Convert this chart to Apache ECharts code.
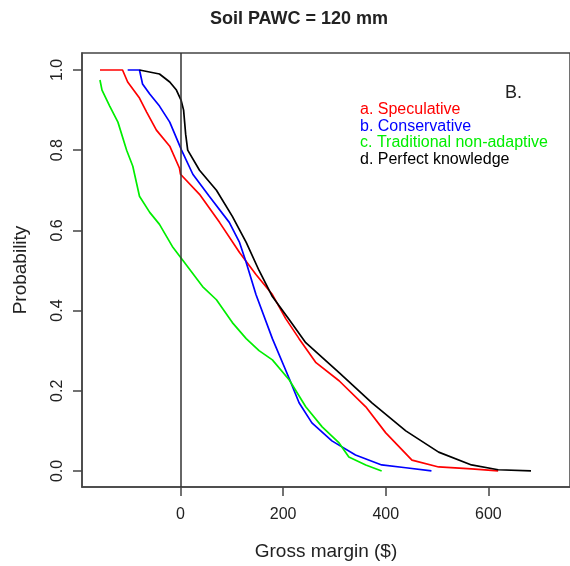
<!DOCTYPE html>
<html>
<head>
<meta charset="utf-8">
<script src="https://cdn.jsdelivr.net/npm/echarts@6/dist/echarts.min.js"></script>
<style>html,body{margin:0;padding:0;background:#fff}#c{width:570px;height:566px}</style>
</head>
<body>
<div id="c"></div>
<script>
var titleText = 'Soil PAWC = 120 mm';
var panelLabel = 'B.';
var xTicks = [0, 200, 400, 600];
var yTicks = [0, 0.2, 0.4, 0.6, 0.8, 1.0];
var seriesNames = ['a. Speculative', 'b. Conservative', 'c. Traditional non-adaptive', 'd. Perfect knowledge'];

var speculativeX = [-157, -113, -103, -80, -66, -47, -21, -2, 0, 37, 76, 115, 147, 179, 205, 231, 264, 309, 361, 400, 451, 503, 567, 619];
var speculativeY = [1.0, 1.0, 0.97, 0.93, 0.895, 0.85, 0.81, 0.755, 0.74, 0.69, 0.62, 0.545, 0.49, 0.44, 0.38, 0.33, 0.27, 0.225, 0.16, 0.095, 0.027, 0.01, 0.005, 0.0];

var conservativeX = [-103, -80, -74, -60, -41, -21, 2, 24, 56, 95, 115, 128, 147, 179, 212, 231, 256, 295, 341, 392, 439, 489];
var conservativeY = [1.0, 1.0, 0.965, 0.94, 0.91, 0.87, 0.80, 0.74, 0.685, 0.62, 0.57, 0.52, 0.44, 0.33, 0.23, 0.17, 0.12, 0.075, 0.04, 0.015, 0.008, 0.0];

var traditionalX = [-157, -153, -138, -122, -105, -93, -80, -60, -41, -16, 4, 43, 70, 101, 128, 153, 179, 212, 244, 276, 309, 328, 361, 392];
var traditionalY = [0.975, 0.95, 0.91, 0.87, 0.80, 0.76, 0.685, 0.645, 0.615, 0.56, 0.526, 0.46, 0.427, 0.37, 0.33, 0.30, 0.277, 0.227, 0.16, 0.11, 0.07, 0.035, 0.015, 0.0];

var perfectX = [-80, -41, -21, -8, 1, 6, 8, 10, 14, 37, 70, 101, 128, 153, 179, 212, 244, 309, 373, 439, 503, 567, 619, 683];
var perfectY = [1.0, 0.99, 0.97, 0.95, 0.925, 0.90, 0.87, 0.84, 0.80, 0.75, 0.70, 0.635, 0.57, 0.50, 0.435, 0.377, 0.32, 0.245, 0.17, 0.10, 0.047, 0.015, 0.003, 0.0];

var colors = ['#ff0000', '#0000ff', '#00ee00', '#000000'];

function pairs(xs, ys) { return xs.map(function (x, i) { return [x, ys[i]]; }); }

var FONT = '"Liberation Sans", Arial, sans-serif';
var chart = echarts.init(document.getElementById('c'), null, {renderer: 'canvas'});

var allData = [pairs(speculativeX, speculativeY), pairs(conservativeX, conservativeY), pairs(traditionalX, traditionalY), pairs(perfectX, perfectY)];

var series = allData.map(function (d, i) {
  return {
    name: seriesNames[i], type: 'line', data: d, showSymbol: false, symbol: 'none',
    lineStyle: {color: colors[i], width: 1.7}, itemStyle: {color: colors[i]},
    animation: false, z: 3
  };
});
series[0].markLine = {
  symbol: 'none', silent: true, animation: false, label: {show: false},
  lineStyle: {color: '#333', width: 1.5, type: 'solid'},
  data: [{xAxis: 0}]
};

var legendY = [110, 126.5, 143, 159.5];
var graphics = [
  {type: 'text', x: 299, y: 19, style: {text: titleText, font: 'bold 18px ' + FONT, fill: '#222', textAlign: 'center', textVerticalAlign: 'middle'}},
  {type: 'text', x: 505, y: 93, style: {text: panelLabel, font: '18px ' + FONT, fill: '#222', textAlign: 'left', textVerticalAlign: 'middle'}}
];
seriesNames.forEach(function (n, i) {
  graphics.push({type: 'text', x: 360, y: legendY[i], style: {text: n, font: '16px ' + FONT, fill: colors[i], textAlign: 'left', textVerticalAlign: 'middle'}});
});

chart.setOption({
  animation: false,
  backgroundColor: '#fff',
  grid: {left: 82, top: 53, width: 490, height: 434, show: true, borderColor: '#444', borderWidth: 1.5, backgroundColor: 'transparent'},
  xAxis: {
    type: 'value', min: -192, max: 759,
    name: 'Gross margin ($)', nameLocation: 'middle', nameGap: 55,
    nameTextStyle: {fontFamily: FONT, fontSize: 19, color: '#222'},
    axisLine: {show: true, onZero: false, lineStyle: {color: '#444', width: 1.5}},
    axisTick: {show: true, length: 9, inside: false, customValues: xTicks, lineStyle: {color: '#444', width: 1.5}},
    axisLabel: {customValues: xTicks, margin: 20, fontFamily: FONT, fontSize: 16, color: '#222'},
    splitLine: {show: false}
  },
  yAxis: {
    type: 'value', min: -0.04, max: 1.0424,
    name: 'Probability', nameLocation: 'middle', nameGap: 52, nameRotate: 90,
    nameTextStyle: {fontFamily: FONT, fontSize: 19, color: '#222'},
    axisLine: {show: true, onZero: false, lineStyle: {color: '#444', width: 1.5}},
    axisTick: {show: true, length: 9, inside: false, customValues: yTicks, lineStyle: {color: '#444', width: 1.5}},
    axisLabel: {customValues: yTicks, rotate: 90, margin: 16, fontFamily: FONT, fontSize: 16, color: '#222',
      formatter: function (v) { return v.toFixed(1); }},
    splitLine: {show: false}
  },
  graphic: graphics,
  series: series
});
</script>
</body>
</html>
